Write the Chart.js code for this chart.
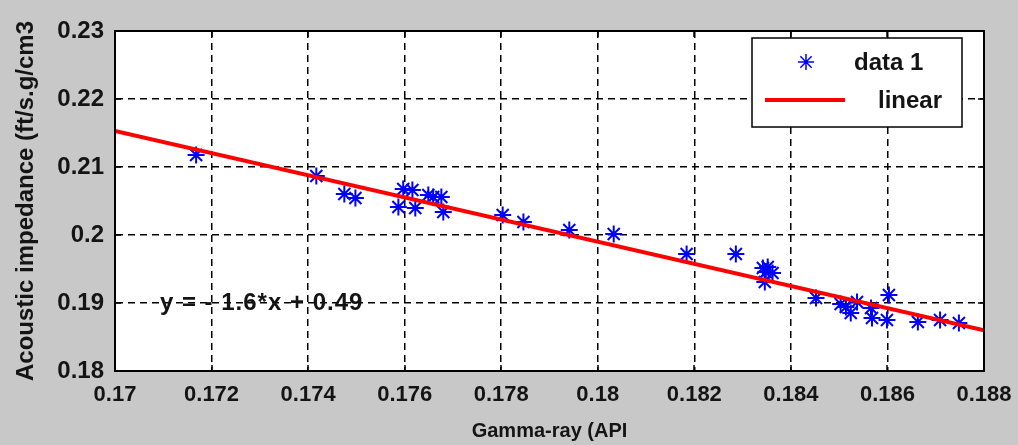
<!DOCTYPE html>
<html><head><meta charset="utf-8">
<script src="https://cdn.jsdelivr.net/npm/chart.js@4.4.1/dist/chart.umd.min.js"></script>
<style>html,body{margin:0;padding:0;background:#c8c8c8;overflow:hidden}#wrap{width:1018px;height:445px}</style>
</head><body><div id="wrap"><canvas id="c" width="1018" height="445"></canvas></div>
<script>
// ---- data ----
const gammaRay = [0.17168,0.17417,0.17475,0.17498,0.17587,0.17597,0.17616,0.17622,0.17649,0.17659,0.17676,0.17680,
  0.17803,0.17846,0.17941,0.18033,0.18184,0.18286,0.18342,0.18348,0.18352,0.18362,0.18346,
  0.18452,0.18503,0.18514,0.18524,0.18537,0.18566,0.18568,0.18599,0.18603,0.18663,0.18709,0.18748];
const impedance = [0.21176,0.20868,0.20603,0.20544,0.20412,0.20676,0.20662,0.20397,0.20588,0.20559,0.20559,0.20338,
  0.20294,0.20191,0.20074,0.20015,0.19721,0.19721,0.19515,0.19456,0.19529,0.19441,0.19309,
  0.19074,0.18985,0.18941,0.18853,0.19015,0.18926,0.18779,0.18750,0.19118,0.18721,0.18750,0.18706];
const fitX = [0.17, 0.188];
const fitY = [0.2153, 0.1860];
const xTicks = [0.17,0.172,0.174,0.176,0.178,0.18,0.182,0.184,0.186,0.188];
const xTickLabels = ['0.17','0.172','0.174','0.176','0.178','0.18','0.182','0.184','0.186','0.188'];
const yTicks = [0.18,0.19,0.2,0.21,0.22,0.23];
const yTickLabels = ['0.18','0.19','0.2','0.21','0.22','0.23'];
const seriesNames = ['data 1','linear'];
const xTitle = 'Gamma-ray (API';
const yTitle = 'Acoustic impedance (ft/s.g/cm3';
const equationText = 'y = - 1.6*x + 0.49';
const equationAt = [0.17093, 0.19];

const FONT = "'Liberation Sans', Arial, sans-serif";
const BLUE = '#0000ff', RED = '#ff0000', TXT = '#141414';

const scatterPts = gammaRay.map((x,i)=>({x, y: impedance[i]}));
const fitPts = fitX.map((x,i)=>({x, y: fitY[i]}));

const extras = {
  id: 'extras',
  beforeDraw(chart){
    const {ctx, chartArea:a} = chart;
    ctx.save();
    ctx.fillStyle = '#ffffff';
    ctx.fillRect(a.left, a.top, a.right-a.left, a.bottom-a.top);
    ctx.restore();
  },
  afterDraw(chart){
    const {ctx, chartArea:a, scales} = chart;
    ctx.save();
    // plot frame
    ctx.strokeStyle = '#000'; ctx.lineWidth = 2; ctx.setLineDash([]);
    ctx.strokeRect(a.left, a.top, a.right-a.left, a.bottom-a.top);
    // inner tick marks on all four sides
    ctx.lineWidth = 1.5;
    const L = 6;
    xTicks.forEach(v=>{
      const p = Math.round(scales.x.getPixelForValue(v));
      ctx.beginPath(); ctx.moveTo(p,a.bottom); ctx.lineTo(p,a.bottom-L);
      ctx.moveTo(p,a.top); ctx.lineTo(p,a.top+L); ctx.stroke();
    });
    yTicks.forEach(v=>{
      const p = Math.round(scales.y.getPixelForValue(v));
      ctx.beginPath(); ctx.moveTo(a.left,p); ctx.lineTo(a.left+L,p);
      ctx.moveTo(a.right,p); ctx.lineTo(a.right-L,p); ctx.stroke();
    });
    // equation text
    ctx.fillStyle = TXT;
    ctx.font = 'bold 24px ' + FONT;
    ctx.letterSpacing = '1px';
    ctx.textBaseline = 'middle'; ctx.textAlign = 'left';
    ctx.fillText(equationText, scales.x.getPixelForValue(equationAt[0]), scales.y.getPixelForValue(equationAt[1]));
    ctx.letterSpacing = '0px';
    // legend box
    const bx = 752, by = 38, bw = 210, bh = 89;
    ctx.fillStyle = '#fff'; ctx.fillRect(bx,by,bw,bh);
    ctx.strokeStyle = '#000'; ctx.lineWidth = 1.5; ctx.strokeRect(bx,by,bw,bh);
    const ds = chart.data.datasets;
    ctx.strokeStyle = BLUE;
    Chart.helpers.drawPoint(ctx, {pointStyle:'star', radius:8, borderWidth:2, rotation:0}, 806, 62);
    ctx.strokeStyle = RED; ctx.lineWidth = 4;
    ctx.beginPath(); ctx.moveTo(765,100); ctx.lineTo(845,100); ctx.stroke();
    ctx.fillStyle = TXT;
    ctx.font = 'bold 24px ' + FONT;
    ctx.textBaseline = 'middle'; ctx.textAlign = 'left';
    ctx.fillText(ds[0].label, 854, 63);
    ctx.fillText(ds[1].label, 878, 101);
    ctx.restore();
  }
};

new Chart(document.getElementById('c'), {
  type: 'scatter',
  data: {
    datasets: [
      {label: seriesNames[0], data: scatterPts, pointStyle:'star', pointRadius:8.5, pointBorderWidth:2,
       borderColor: BLUE, backgroundColor: BLUE, order:1, showLine:false},
      {label: seriesNames[1], type:'line', data: fitPts, borderColor: RED, borderWidth:4, pointRadius:0,
       showLine:true, fill:false, order:0, tension:0}
    ]
  },
  options: {
    responsive:false, animation:false, devicePixelRatio:1,
    layout:{padding:{top:31,right:34,left:0,bottom:0}},
    plugins:{legend:{display:false}, tooltip:{enabled:false}},
    scales:{
      x:{type:'linear', min:0.17, max:0.188,
         afterBuildTicks(s){ s.ticks = xTicks.map(v=>({value:v})); },
         afterFit(s){ s.height = 74; s.paddingLeft = 0; s.paddingRight = 0; },
         ticks:{callback:(v,i)=>xTickLabels[i], color:TXT, padding:11, maxRotation:0, autoSkip:false,
                font:{family:FONT, size:22, weight:'bold'}},
         grid:{color:'#000', lineWidth:1.5, drawTicks:false, tickLength:0},
         border:{display:true, color:'#000', width:2, dash:[7,5]},
         title:{display:true, text:xTitle, color:TXT, padding:{top:0,bottom:2},
                font:{family:FONT, size:20, weight:'bold'}}
      },
      y:{type:'linear', min:0.18, max:0.23,
         afterBuildTicks(s){ s.ticks = yTicks.map(v=>({value:v})); },
         afterFit(s){ s.width = 115; s.paddingTop = 0; s.paddingBottom = 0; },
         ticks:{callback:(v,i)=>yTickLabels[i], color:TXT, padding:11, autoSkip:false,
                font:{family:FONT, size:24, weight:'bold'}},
         grid:{color:'#000', lineWidth:1.5, drawTicks:false, tickLength:0},
         border:{display:true, color:'#000', width:2, dash:[7,5]},
         title:{display:true, text:yTitle, color:TXT, padding:{top:12,bottom:0},
                font:{family:FONT, size:24, weight:'bold'}}
      }
    }
  },
  plugins:[extras]
});
</script>
</body></html>
